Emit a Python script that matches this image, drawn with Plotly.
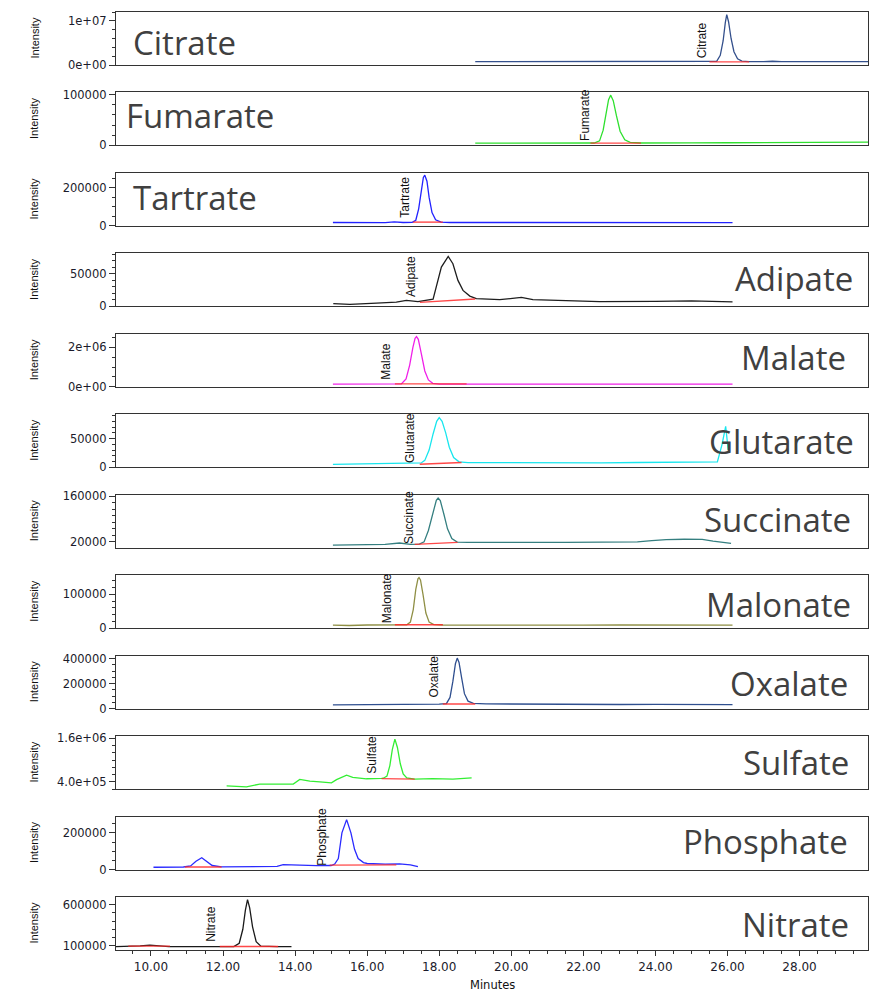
import plotly.graph_objects as go
from plotly.subplots import make_subplots

# ---------------------------------------------------------------------------
# Anion chromatograms: retention time (min) and detector intensity
# ---------------------------------------------------------------------------
compounds = ["Citrate", "Fumarate", "Tartrate", "Adipate", "Malate", "Glutarate",
             "Succinate", "Malonate", "Oxalate", "Sulfate", "Phosphate", "Nitrate"]

citrate_t = [19.0, 20.5, 22.0, 23.5, 25.0, 25.5, 25.7, 25.8, 25.88, 25.94, 25.98,
             26.03, 26.1, 26.18, 26.28, 26.4, 26.6, 27.0, 27.25, 27.5, 28.5, 29.9]
citrate_i = [750000, 740000, 750000, 745000, 750000, 760000, 850000, 2.2e6, 5.5e6,
             9.6e6, 1.14e7, 9.8e6, 6.0e6, 3.0e6, 1.4e6, 900000, 780000, 770000,
             850000, 760000, 750000, 750000]

fumarate_t = [19.0, 20.0, 21.0, 21.8, 22.3, 22.45, 22.55, 22.63, 22.7, 22.76, 22.83,
              22.92, 23.02, 23.15, 23.3, 23.6, 24.0, 25.0, 26.0, 27.0, 28.0, 29.0, 29.9]
fumarate_i = [4500, 4300, 4600, 4400, 4800, 9000, 30000, 62000, 90000, 98700, 88000,
              58000, 28000, 11000, 6000, 4800, 5200, 5000, 5300, 5600, 5800, 6200, 6500]

tartrate_t = [15.05, 15.5, 16.0, 16.5, 16.75, 17.0, 17.25, 17.35, 17.43, 17.5, 17.56,
              17.6, 17.66, 17.72, 17.8, 17.9, 18.05, 18.3, 19.0, 20.0, 20.5, 21.5,
              23.0, 24.5, 26.14]
tartrate_i = [18000, 17500, 18500, 17500, 21000, 18000, 19000, 30000, 90000, 190000,
              255000, 267000, 235000, 150000, 70000, 32000, 20000, 18000, 18000, 19500,
              17500, 18000, 17500, 18000, 17500]

adipate_t = [15.06, 15.52, 16.26, 16.81, 17.09, 17.41, 17.83, 17.92, 18.06, 18.25,
             18.38, 18.52, 18.66, 18.85, 19.03, 19.68, 20.28, 20.6, 21.53, 22.45,
             24.0, 25.0, 26.14]
adipate_i = [4100, 3000, 5000, 6600, 9200, 7200, 11100, 29500, 60000, 76400, 65200,
             39700, 24400, 15700, 11800, 10200, 13700, 10200, 8100, 7100, 7500, 8500, 7000]

malate_t = [15.05, 16.0, 16.77, 16.95, 17.08, 17.18, 17.27, 17.33, 17.37, 17.42, 17.5,
            17.6, 17.7, 17.82, 18.0, 18.76, 20.0, 22.0, 24.0, 26.14]
malate_i = [137000, 137000, 137000, 145000, 400000, 1.1e6, 2.0e6, 2.45e6, 2.54e6,
            2.4e6, 1.7e6, 800000, 350000, 175000, 140000, 137000, 137000, 137000,
            137000, 137000]

glutarate_t = [15.05, 15.5, 16.0, 16.5, 16.85, 17.2, 17.5, 17.6, 17.72, 17.83, 17.93,
               18.0, 18.08, 18.18, 18.28, 18.4, 18.55, 18.8, 19.5, 20.5, 21.5, 22.5,
               23.5, 24.5, 25.5, 25.72, 25.85, 25.95, 26.02]
glutarate_i = [5000, 5300, 5700, 6200, 7500, 6800, 7500, 12000, 30000, 58000, 80000,
               86500, 80000, 60000, 35000, 17000, 9500, 8000, 7800, 7600, 8000, 7800,
               8300, 8800, 9200, 9500, 40000, 71400, 30000]

succinate_t = [15.05, 15.5, 16.0, 16.5, 16.9, 17.2, 17.45, 17.58, 17.7, 17.82, 17.92,
               17.97, 18.03, 18.13, 18.23, 18.35, 18.5, 18.8, 19.5, 20.5, 21.5, 22.5,
               23.5, 23.9, 24.3, 24.8, 25.3, 25.6, 26.1]
succinate_i = [10000, 10500, 11500, 12500, 16500, 12500, 13000, 20000, 55000, 110000,
               148000, 155000, 147000, 105000, 60000, 30000, 19500, 18500, 18000, 19000,
               18500, 19500, 20000, 24000, 27000, 28000, 27500, 22000, 15500]

malonate_t = [15.05, 15.5, 16.0, 16.5, 16.8, 17.1, 17.2, 17.28, 17.35, 17.41, 17.44,
              17.48, 17.55, 17.63, 17.72, 17.85, 18.1, 19.0, 20.0, 21.0, 22.0, 23.0,
              24.0, 25.0, 26.14]
malonate_i = [8900, 8000, 9500, 9000, 9000, 10000, 18000, 55000, 115000, 146000, 150000,
              143000, 100000, 45000, 18000, 10500, 9500, 9000, 8500, 9500, 8800, 9500,
              9000, 10000, 9000]

oxalate_t = [15.05, 16.0, 16.5, 17.0, 17.5, 18.0, 18.2, 18.3, 18.38, 18.45, 18.5, 18.55,
             18.62, 18.7, 18.8, 18.95, 19.3, 20.0, 21.0, 22.0, 23.0, 24.0, 25.0, 26.14]
oxalate_i = [30000, 30000, 32000, 33000, 35000, 36000, 40000, 90000, 220000, 360000,
             405000, 370000, 250000, 120000, 60000, 42000, 38000, 36000, 34000, 35000,
             33000, 34000, 32000, 32000]

sulfate_t = [12.1, 12.65, 13.02, 13.95, 14.13, 14.41, 14.69, 15.01, 15.15, 15.43, 15.6,
             15.98, 16.4, 16.45, 16.55, 16.63, 16.7, 16.77, 16.84, 16.92, 17.0, 17.1,
             17.32, 17.82, 18.38, 18.9]
sulfate_i = [291000, 264000, 338000, 338000, 468000, 420000, 402000, 374000, 460000,
             587000, 523000, 485000, 496000, 500000, 560000, 850000, 1.3e6, 1.58e6,
             1.35e6, 900000, 620000, 510000, 476000, 490000, 476000, 512000]

phosphate_t = [10.07, 10.5, 10.9, 11.1, 11.25, 11.41, 11.55, 11.7, 11.96, 12.5, 13.0,
               13.5, 13.67, 14.2, 14.6, 15.0, 15.1, 15.2, 15.3, 15.43, 15.55, 15.65,
               15.75, 15.9, 16.0, 16.5, 16.9, 17.2, 17.41]
phosphate_i = [12500, 13000, 14000, 20000, 45000, 64000, 45000, 22000, 15000, 16000,
               14000, 17000, 27000, 22000, 21000, 22000, 30000, 60000, 200000, 272000,
               200000, 110000, 60000, 38000, 33000, 30000, 31000, 25000, 16000]

nitrate_t = [9.03, 9.4, 9.7, 9.97, 10.2, 10.5, 11.0, 11.5, 12.0, 12.3, 12.45, 12.55,
             12.62, 12.68, 12.74, 12.82, 12.92, 13.05, 13.5, 13.9]
nitrate_i = [88000, 90000, 98000, 108000, 98000, 90000, 88000, 88000, 88000, 90000,
             130000, 300000, 530000, 660000, 560000, 330000, 150000, 95000, 90000, 90000]

# integration baselines (segments separated by None)
citrate_bl_t = [25.5, 26.6]
citrate_bl_i = [700000, 700000]
fumarate_bl_t = [22.2, 23.6]
fumarate_bl_i = [4500, 4500]
tartrate_bl_t = [17.27, 18.1]
tartrate_bl_i = [20000, 20000]
adipate_bl_t = [17.46, 19.0]
adipate_bl_i = [6100, 11200]
malate_bl_t = [16.77, 18.76]
malate_bl_i = [150000, 150000]
glutarate_bl_t = [17.46, 18.62]
glutarate_bl_i = [5200, 8200]
succinate_bl_t = [17.32, 18.51]
succinate_bl_i = [12300, 18400]
malonate_bl_t = [16.77, 18.1]
malonate_bl_i = [10000, 10000]
oxalate_bl_t = [18.1, 19.0]
oxalate_bl_i = [37000, 37000]
sulfate_bl_t = [16.4, 17.32]
sulfate_bl_i = [490000, 476000]
phosphate_bl_t = [10.94, 11.96, None, 14.96, 16.81]
phosphate_bl_i = [14000, 14000, None, 24000, 25600]
nitrate_bl_t = [9.37, 10.53, None, 11.91, 13.53]
nitrate_bl_i = [95000, 95000, None, 90000, 90000]

# y-axis tick values and labels
citrate_ticks, citrate_ticktext = [0, 1e7], ["0e+00", "1e+07"]
fumarate_ticks, fumarate_ticktext = [0, 100000], ["0", "100000"]
tartrate_ticks, tartrate_ticktext = [0, 200000], ["0", "200000"]
adipate_ticks, adipate_ticktext = [0, 50000], ["0", "50000"]
malate_ticks, malate_ticktext = [0, 2e6], ["0e+00", "2e+06"]
glutarate_ticks, glutarate_ticktext = [0, 50000], ["0", "50000"]
succinate_ticks, succinate_ticktext = [20000, 160000], ["20000", "160000"]
malonate_ticks, malonate_ticktext = [0, 100000], ["0", "100000"]
oxalate_ticks, oxalate_ticktext = [0, 200000, 400000], ["0", "200000", "400000"]
sulfate_ticks, sulfate_ticktext = [400000, 1.6e6], ["4.0e+05", "1.6e+06"]
phosphate_ticks, phosphate_ticktext = [0, 200000], ["0", "200000"]
nitrate_ticks, nitrate_ticktext = [100000, 600000], ["100000", "600000"]

x_tickvals = [10, 12, 14, 16, 18, 20, 22, 24, 26, 28]
x_ticktext = ["10.00", "12.00", "14.00", "16.00", "18.00", "20.00", "22.00",
              "24.00", "26.00", "28.00"]

# ---------------------------------------------------------------------------
# Panel styling
# ---------------------------------------------------------------------------
panels = [
    # trace data, baseline, ticks, colour, y-range, minor step, peak-label spot, name placement
    dict(t=citrate_t, i=citrate_i, bt=citrate_bl_t, bi=citrate_bl_i,
         tv=citrate_ticks, tt=citrate_ticktext, color="#34508c",
         yr=[0, 1.2e7], minor=(0, 2e6), lab=(25.30, 1.13e6),
         nx=0.020, nanchor="left", ny=0.42),
    dict(t=fumarate_t, i=fumarate_i, bt=fumarate_bl_t, bi=fumarate_bl_i,
         tv=fumarate_ticks, tt=fumarate_ticktext, color="#2ee02e",
         yr=[0, 104000], minor=(0, 20000), lab=(22.04, 4500),
         nx=0.0106, nanchor="left", ny=0.56),
    dict(t=tartrate_t, i=tartrate_i, bt=tartrate_bl_t, bi=tartrate_bl_i,
         tv=tartrate_ticks, tt=tartrate_ticktext, color="#2222ff",
         yr=[0, 279000], minor=(0, 50000), lab=(17.04, 33700),
         nx=0.020, nanchor="left", ny=0.54),
    dict(t=adipate_t, i=adipate_i, bt=adipate_bl_t, bi=adipate_bl_i,
         tv=adipate_ticks, tt=adipate_ticktext, color="#1e1e1e",
         yr=[0, 81000], minor=(0, 10000), lab=(17.21, 11800),
         nx=0.983, nanchor="right", ny=0.53),
    dict(t=malate_t, i=malate_i, bt=malate_bl_t, bi=malate_bl_i,
         tv=malate_ticks, tt=malate_ticktext, color="#f020e8",
         yr=[0, 2.68e6], minor=(0, 5e5), lab=(16.52, 254000),
         nx=0.974, nanchor="right", ny=0.55),
    dict(t=glutarate_t, i=glutarate_i, bt=glutarate_bl_t, bi=glutarate_bl_i,
         tv=glutarate_ticks, tt=glutarate_ticktext, color="#18e6ee",
         yr=[0, 92300], minor=(0, 10000), lab=(17.21, 3500),
         nx=0.984, nanchor="right", ny=0.48),
    dict(t=succinate_t, i=succinate_i, bt=succinate_bl_t, bi=succinate_bl_i,
         tv=succinate_ticks, tt=succinate_ticktext, color="#357f80",
         yr=[2000, 165000], minor=(0, 20000), lab=(17.15, 7200),
         nx=0.980, nanchor="right", ny=0.54),
    dict(t=malonate_t, i=malonate_i, bt=malonate_bl_t, bi=malonate_bl_i,
         tv=malonate_ticks, tt=malonate_ticktext, color="#8f8f45",
         yr=[0, 157000], minor=(0, 20000), lab=(16.55, 8900),
         nx=0.980, nanchor="right", ny=0.45),
    dict(t=oxalate_t, i=oxalate_i, bt=oxalate_bl_t, bi=oxalate_bl_i,
         tv=oxalate_ticks, tt=oxalate_ticktext, color="#2f4f8f",
         yr=[0, 425000], minor=(0, 50000), lab=(17.85, 72000),
         nx=0.976, nanchor="right", ny=0.47),
    dict(t=sulfate_t, i=sulfate_i, bt=sulfate_bl_t, bi=sulfate_bl_i,
         tv=sulfate_ticks, tt=sulfate_ticktext, color="#33ee33",
         yr=[2.0e5, 1.664e6], minor=(0, 2e5), lab=(16.15, 559000),
         nx=0.977, nanchor="right", ny=0.51),
    dict(t=phosphate_t, i=phosphate_i, bt=phosphate_bl_t, bi=phosphate_bl_i,
         tv=phosphate_ticks, tt=phosphate_ticktext, color="#2a2aff",
         yr=[0, 288800], minor=(0, 50000), lab=(14.76, 12500),
         nx=0.976, nanchor="right", ny=0.53),
    dict(t=nitrate_t, i=nitrate_i, bt=nitrate_bl_t, bi=nitrate_bl_i,
         tv=nitrate_ticks, tt=nitrate_ticktext, color="#1a1a1a",
         yr=[48000, 692000], minor=(0, 100000), lab=(11.68, 129000),
         nx=0.977, nanchor="right", ny=0.49),
]

N = len(compounds)
FRAME = "#333333"
TICKFONT = dict(family="DejaVu Sans", size=11.5, color="#1b1b2b")

fig = make_subplots(rows=N, cols=1, shared_xaxes=True, vertical_spacing=0.02926)

for k, (name, p) in enumerate(zip(compounds, panels)):
    row = k + 1
    fig.add_trace(go.Scatter(x=p["t"], y=p["i"], mode="lines",
                             line=dict(color=p["color"], width=1.3),
                             hoverinfo="skip", showlegend=False), row=row, col=1)
    fig.add_trace(go.Scatter(x=p["bt"], y=p["bi"], mode="lines",
                             line=dict(color="rgba(255,40,40,0.85)", width=1.4),
                             connectgaps=False, hoverinfo="skip", showlegend=False),
                  row=row, col=1)

    fig.update_yaxes(range=p["yr"], tickmode="array", tickvals=p["tv"], ticktext=p["tt"],
                     ticks="outside", ticklen=6, tickwidth=1, tickcolor=FRAME,
                     minor=dict(tick0=p["minor"][0], dtick=p["minor"][1], ticks="outside",
                                ticklen=3, tickwidth=1, tickcolor=FRAME, showgrid=False),
                     showline=True, linecolor=FRAME, linewidth=1.3, mirror=True,
                     showgrid=False, zeroline=False, tickfont=TICKFONT,
                     row=row, col=1)

    yref = "y domain" if row == 1 else f"y{row} domain"
    xref = "x domain" if row == 1 else f"x{row} domain"
    dref_x = "x" if row == 1 else f"x{row}"
    dref_y = "y" if row == 1 else f"y{row}"

    # y-axis title
    fig.add_annotation(text="Intensity", xref="paper", x=-0.109, yref=yref, y=0.5,
                       textangle=-90, showarrow=False, xanchor="center", yanchor="middle",
                       font=dict(family="Liberation Sans", size=11, color="#111111"))
    # compound name inside the panel
    fig.add_annotation(text=name, xref=xref, x=p["nx"], yref=yref, y=p["ny"],
                       xanchor=p["nanchor"], yanchor="middle", showarrow=False,
                       font=dict(family="Open Sans", size=33, color="#404040"))
    # vertical peak label
    fig.add_annotation(text=name, xref=dref_x, x=p["lab"][0], yref=dref_y, y=p["lab"][1],
                       textangle=-90, showarrow=False, xanchor="center", yanchor="bottom",
                       font=dict(family="Liberation Sans", size=12, color="#111111"))

fig.update_xaxes(range=[9.03, 29.9], showline=True, linecolor=FRAME, linewidth=1.3,
                 mirror=True, showgrid=False, zeroline=False, ticks="")
fig.update_xaxes(row=N, col=1, tickmode="array", tickvals=x_tickvals, ticktext=x_ticktext,
                 ticks="outside", ticklen=5, tickwidth=1, tickcolor=FRAME,
                 minor=dict(tick0=0, dtick=0.5, ticks="outside", ticklen=3, tickwidth=1,
                            tickcolor=FRAME, showgrid=False),
                 showticklabels=True, tickfont=dict(family="DejaVu Sans", size=12,
                                                    color="#1b1b2b"))

fig.add_annotation(text="Minutes", xref="paper", x=0.5, yref="paper", y=-0.0373,
                   xanchor="center", yanchor="middle", showarrow=False,
                   font=dict(family="DejaVu Sans", size=11.5, color="#111111"))

fig.update_layout(width=871, height=996, margin=dict(l=116, r=3, t=12, b=46),
                  paper_bgcolor="white", plot_bgcolor="white")

fig.write_html("out.html")
